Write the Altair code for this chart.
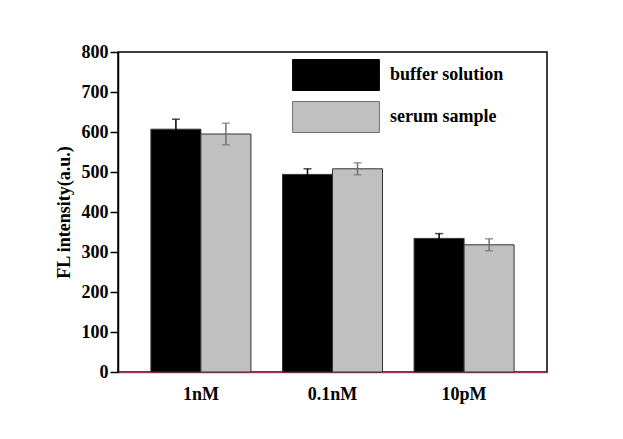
import altair as alt
import pandas as pd

concentrations = ["1nM", "0.1nM", "10pM"]
series = ["buffer solution", "serum sample"]
buffer_vals = [607, 494, 334]
buffer_err = [25, 14, 12]
serum_vals = [595, 508, 318]
serum_err = [27, 15, 15]
y_ticks = [0, 100, 200, 300, 400, 500, 600, 700, 800]

rows = []
for s, vals, errs in [(series[0], buffer_vals, buffer_err), (series[1], serum_vals, serum_err)]:
    for c, v, e in zip(concentrations, vals, errs):
        rows.append({"conc": c, "series": s, "value": v, "lo": v - e, "hi": v + e})
df = pd.DataFrame(rows)

FONT = "Liberation Serif"

x = alt.X(
    "conc:N",
    sort=concentrations,
    scale=alt.Scale(paddingInner=0.24, paddingOuter=0.25),
    axis=alt.Axis(
        title=None, labelAngle=0, ticks=False, labelPadding=13,
        domainColor="#9e3d55", domainWidth=1.5,
        labelFontSize=18, labelFont=FONT, labelFontWeight="bold", labelColor="black",
    ),
)
xo = alt.XOffset("series:N", sort=series, scale=alt.Scale(paddingInner=0, paddingOuter=0))
yscale = alt.Scale(domain=[0, 800], nice=False)
yaxis = alt.Axis(
    values=y_ticks, title="FL intensity(a.u.)", grid=False, labelOverlap=False, tickCount=9,
    domainColor="black", domainWidth=1.5, tickColor="black", tickWidth=1.5, tickSize=8,
    labelPadding=2, labelFont=FONT, labelFontSize=18, labelFontWeight="bold", labelColor="black",
    titleFont=FONT, titleFontSize=18, titleFontWeight="bold", titleColor="black", titlePadding=8,
)

bars = alt.Chart(df).mark_bar(stroke="#333333", strokeWidth=1).encode(
    x=x,
    xOffset=xo,
    y=alt.Y("value:Q", scale=yscale, axis=yaxis),
    fill=alt.Fill(
        "series:N", sort=series,
        scale=alt.Scale(domain=series, range=["#000000", "#c0c0c0"]),
        legend=alt.Legend(
            title=None, orient="none", legendX=202, legendY=7,
            symbolType="M-2.8,-1H2.8V1H-2.8Z", symbolSize=961,
            symbolStrokeColor="#777777", symbolStrokeWidth=1, symbolOpacity=1,
            labelFont=FONT, labelFontSize=18, labelFontWeight="bold", labelColor="black",
            labelOffset=38, rowPadding=6, padding=0,
        ),
    ),
)

err_scale = alt.Scale(domain=series, range=["#000000", "#707070"])

rules = alt.Chart(df).mark_rule(strokeWidth=1.5).encode(
    x=x, xOffset=xo, y=alt.Y("lo:Q", scale=yscale, axis=yaxis), y2="hi:Q",
    stroke=alt.Stroke("series:N", sort=series, scale=err_scale, legend=None),
)
caps_hi = alt.Chart(df).mark_tick(size=8, thickness=1.5, orient="horizontal").encode(
    x=x, xOffset=xo, y=alt.Y("hi:Q", scale=yscale, axis=yaxis),
    color=alt.Color("series:N", sort=series, scale=err_scale, legend=None),
)
caps_lo = alt.Chart(df).mark_tick(size=8, thickness=1.5, orient="horizontal").encode(
    x=x, xOffset=xo, y=alt.Y("lo:Q", scale=yscale, axis=yaxis),
    color=alt.Color("series:N", sort=series, scale=err_scale, legend=None),
)

chart = alt.layer(bars, rules, caps_hi, caps_lo).properties(
    width=429, height=320,
    autosize=alt.AutoSizeParams(type="none"),
    padding={"left": 118, "top": 52, "right": 76, "bottom": 67},
    background="white",
).configure_view(stroke="black", strokeWidth=1.5)

chart.save("out.html", embed_options={"renderer": "svg", "actions": False})
